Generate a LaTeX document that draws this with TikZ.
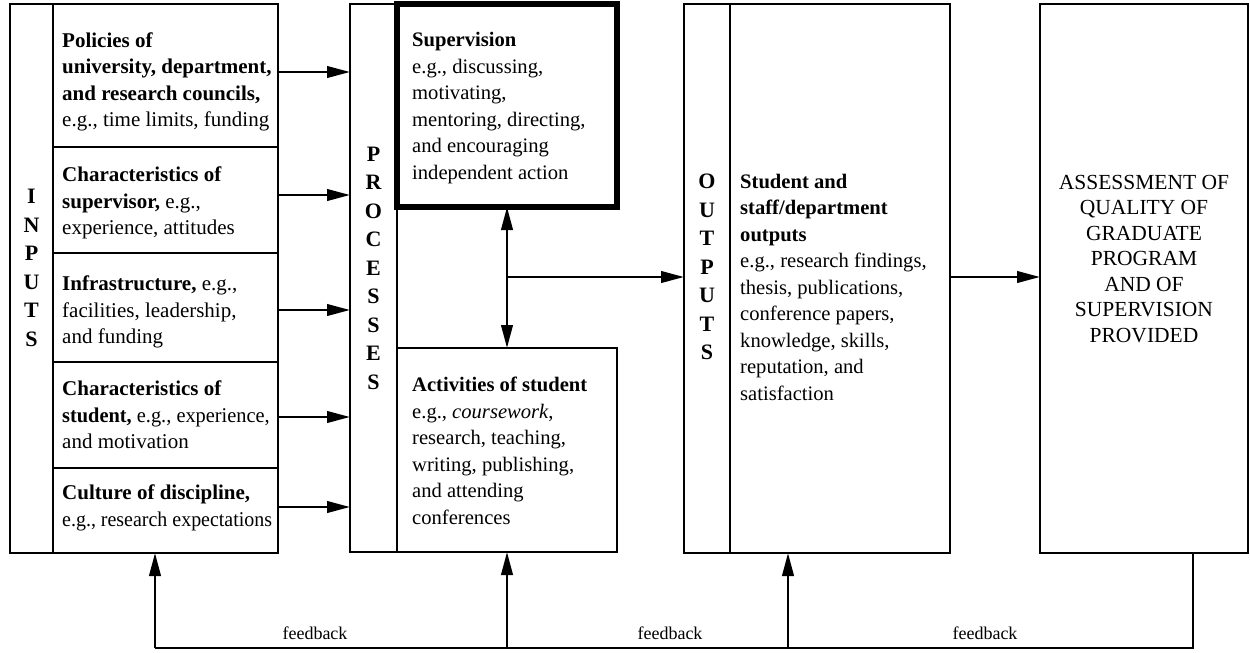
\documentclass[tikz,border=0pt]{standalone}
\usepackage{fontspec}
\setmainfont{Liberation Serif}
\usetikzlibrary{arrows.meta}
\tikzset{
  box/.style={draw, line width=2.5pt, anchor=north west, inner sep=0pt, outer sep=0pt},
  thickbox/.style={box, line width=5.5pt},
  txt/.style={font=\fontsize{20.6}{26.5}\selectfont, align=left, inner sep=0pt, anchor=west},
  intxt/.style={txt, font=\fontsize{21}{26.5}\selectfont},
  ctxt/.style={font=\fontsize{21.5}{25.5}\selectfont, align=center, inner sep=0pt},
  letters/.style={font=\fontsize{22}{28.5}\selectfont\bfseries, align=center, inner sep=0pt},
  fblabel/.style={font=\fontsize{18}{20}\selectfont, inner sep=0pt},
  arr/.style={line width=2.5pt, -{Triangle[length=23pt,width=11.5pt]}},
  darr/.style={line width=2.5pt, {Triangle[length=23pt,width=11.5pt]}-{Triangle[length=23pt,width=11.5pt]}},
  fbline/.style={line width=2.2pt}
}
\begin{document}
\begin{tikzpicture}[x=1pt,y=-1pt]
\useasboundingbox (0,0) rectangle (1250,653);
\fill[white] (0,0) rectangle (1250,653);

% INPUTS
\node[box, minimum width=43pt, minimum height=549pt] (incol) at (10,4) {};
\node[box, minimum width=225pt, minimum height=143pt] (in1) at (53,4) {};
\node[box, minimum width=225pt, minimum height=106pt] (in2) at (53,147) {};
\node[box, minimum width=225pt, minimum height=109pt] (in3) at (53,253) {};
\node[box, minimum width=225pt, minimum height=106pt] (in4) at (53,362) {};
\node[box, minimum width=225pt, minimum height=85pt] (in5) at (53,468) {};
\node[letters] (inL) at (31.5,268) {I\\N\\P\\U\\T\\S};
\node[intxt] (t1) at (62,82) {\textbf{Policies of}\\\textbf{university, department,}\\\textbf{and research councils,}\\e.g., time limits, funding};
\node[intxt] (t2) at (62,203) {\textbf{Characteristics of}\\\textbf{supervisor,} e.g.,\\experience, attitudes};
\node[intxt] (t3) at (62,312) {\textbf{Infrastructure,} e.g.,\\facilities, leadership,\\and funding};
\node[intxt] (t4) at (62,415) {\textbf{Characteristics of}\\\scalebox{0.97}[1]{\textbf{student,} e.g., experience,}\\and motivation};
\node[intxt] (t5) at (62,508) {\textbf{Culture of discipline,}\\\scalebox{0.95}[1]{e.g., research expectations}};

% PROCESSES
\node[box, minimum width=47pt, minimum height=548pt] (pcol) at (350,4) {};
\node[thickbox, minimum width=220pt, minimum height=203pt] (sup) at (397,4) {};
\node[box, minimum width=220pt, minimum height=204pt] (act) at (397,348) {};
\node[letters] (pL) at (373.5,268) {P\\R\\O\\C\\E\\S\\S\\E\\S};
\node[txt] (ts) at (412,108) {\textbf{Supervision}\\e.g., discussing,\\motivating,\\mentoring, directing,\\and encouraging\\independent action};
\node[txt] (ta) at (412,451) {\textbf{Activities of student}\\e.g., \textit{coursework},\\research, teaching,\\writing, publishing,\\and attending\\conferences};

% OUTPUTS
\node[box, minimum width=46pt, minimum height=549pt] (ocol) at (684,4) {};
\node[box, minimum width=220pt, minimum height=549pt] (out) at (730,4) {};
\node[letters] (oL) at (707,267) {O\\U\\T\\P\\U\\T\\S};
\node[txt] (to) at (740,287) {\textbf{Student and}\\\textbf{staff/department}\\\textbf{outputs}\\e.g., research findings,\\thesis, publications,\\conference papers,\\knowledge, skills,\\reputation, and\\satisfaction};

% ASSESSMENT
\node[box, minimum width=208pt, minimum height=549pt] (ass) at (1040,4) {};
\node[ctxt] (tq) at (1144,259) {ASSESSMENT OF\\QUALITY OF\\GRADUATE\\PROGRAM\\AND OF\\SUPERVISION\\PROVIDED};

% connectors inputs -> processes
\draw[arr] ([yshift=3.5pt]in1.east) -- ([yshift=3.5pt]in1.east -| pcol.west);
\draw[arr] ([yshift=5pt]in2.east) -- ([yshift=5pt]in2.east -| pcol.west);
\draw[arr] ([yshift=-2.5pt]in3.east) -- ([yshift=-2.5pt]in3.east -| pcol.west);
\draw[arr] ([yshift=-2pt]in4.east) -- ([yshift=-2pt]in4.east -| pcol.west);
\draw[arr] ([yshift=3.5pt]in5.east) -- ([yshift=3.5pt]in5.east -| pcol.west);

% supervision <-> activities
\draw[darr] (sup.south) -- (act.north);
\coordinate (j) at (507,277);
\draw[arr] (j) -- (j -| ocol.west);
\draw[arr] (j -| out.east) -- (j -| ass.west);

% feedback
\coordinate (fbR) at (1193,648);
\coordinate (fbL) at (155,648);
\coordinate (fbO) at (788,648);
\draw[fbline] (fbR |- ass.south) -- (fbR) -- (fbL);
\draw[arr] (fbL) -- (fbL |- in5.south);
\draw[arr] (act.south |- fbL) -- (act.south);
\draw[arr] (fbO) -- (fbO |- out.south);
\node[fblabel] (f1) at (315,633) {feedback};
\node[fblabel] (f2) at (670,633) {feedback};
\node[fblabel] (f3) at (985,633) {feedback};
\end{tikzpicture}
\end{document}
